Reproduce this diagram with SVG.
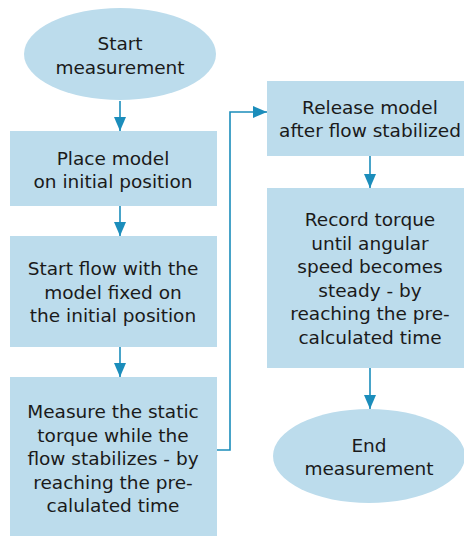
<svg xmlns="http://www.w3.org/2000/svg" width="464" height="537" viewBox="0 0 464 537">
<style>
.n{fill:#bcdcec;stroke:none}
.t{font-family:"DejaVu Sans","Liberation Sans",sans-serif;font-size:18.5px;fill:#1a1a1a;text-anchor:middle}
.c{fill:none;stroke:#1b8dbb;stroke-width:1.6}
</style>
<defs>
<marker id="ah" markerUnits="userSpaceOnUse" markerWidth="14" markerHeight="12" refX="14" refY="6" orient="auto">
<path d="M0,0 L14,6 L0,12 z" fill="#1b8dbb"/>
</marker>
</defs>
<rect width="464" height="537" fill="#ffffff"/>
<g id="start">
<ellipse class="n" cx="120" cy="54" rx="96" ry="46"/>
<text class="t" x="120" y="50">Start</text>
<text class="t" x="120" y="74">measurement</text>
</g>
<g id="place">
<rect class="n" x="10" y="131" width="207" height="75"/>
<text class="t" x="113" y="165">Place model</text>
<text class="t" x="113" y="188">on initial position</text>
</g>
<g id="startflow">
<rect class="n" x="10" y="236" width="207" height="111"/>
<text class="t" x="113" y="275">Start flow with the</text>
<text class="t" x="113" y="299">model fixed on</text>
<text class="t" x="113" y="322">the initial position</text>
</g>
<g id="measure">
<rect class="n" x="10" y="377" width="207" height="159"/>
<text class="t" x="113" y="418">Measure the static</text>
<text class="t" x="113" y="442">torque while the</text>
<text class="t" x="113" y="465">flow stabilizes - by</text>
<text class="t" x="113" y="489">reaching the pre-</text>
<text class="t" x="113" y="512">calulated time</text>
</g>
<g id="release">
<rect class="n" x="267" y="81" width="207" height="75"/>
<text class="t" x="370" y="114">Release model</text>
<text class="t" x="370" y="137">after flow stabilized</text>
</g>
<g id="record">
<rect class="n" x="267" y="188" width="207" height="180"/>
<text class="t" x="370" y="226">Record torque</text>
<text class="t" x="370" y="250">until angular</text>
<text class="t" x="370" y="273">speed becomes</text>
<text class="t" x="370" y="297">steady - by</text>
<text class="t" x="370" y="320">reaching the pre-</text>
<text class="t" x="370" y="344">calculated time</text>
</g>
<g id="end">
<ellipse class="n" cx="369" cy="456" rx="96" ry="47"/>
<text class="t" x="369" y="452">End</text>
<text class="t" x="369" y="475">measurement</text>
</g>
<g id="connectors">
<path class="c" d="M120,101 V131" marker-end="url(#ah)"/>
<path class="c" d="M120,206 V236" marker-end="url(#ah)"/>
<path class="c" d="M120,347 V377" marker-end="url(#ah)"/>
<path class="c" d="M217,450 H230 V112 H267" marker-end="url(#ah)"/>
<path class="c" d="M370,156 V188" marker-end="url(#ah)"/>
<path class="c" d="M370,368 V409" marker-end="url(#ah)"/>
</g>
</svg>
